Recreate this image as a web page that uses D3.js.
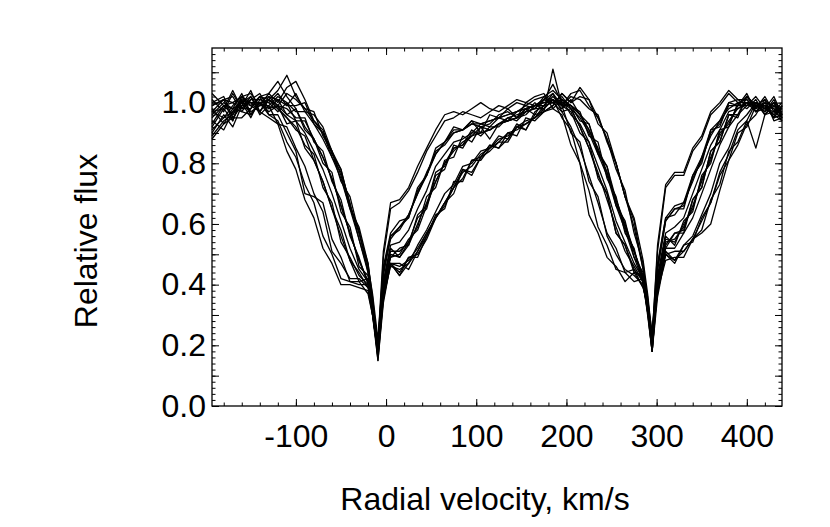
<!DOCTYPE html>
<html>
<head>
<meta charset="utf-8">
<script src="https://cdn.jsdelivr.net/npm/d3@7/dist/d3.min.js"></script>
<style>
  body { margin: 0; background: #fff; }
  text { font-family: "Liberation Sans", Arial, sans-serif; }
</style>
</head>
<body>
<div id="chart"></div>
<script>
// radial velocity grid (km/s), shared by every spectrum
var velocity = [-193, -180, -170, -160, -150, -140,
  -130, -120, -110, -100, -90, -80, -70, -60, -50, -40, -30, -20, -15, -9,
  -3, 5, 15, 25, 35, 45, 55, 65, 75, 85, 95, 105, 115, 125, 135, 145, 155, 165, 175,
  185, 195, 205, 215, 225, 235, 245, 255, 265, 275, 285, 290, 295,
  301, 310, 320, 330, 340, 350, 360, 370, 380, 390, 400, 410, 420, 430, 439];

// relative flux of each observed profile
var flux01 = [0.95, 0.99, 0.96, 1.02, 0.97, 0.99,
  1.03, 1.00, 1.05, 1.07, 1.01, 0.94, 0.91, 0.83, 0.78, 0.66, 0.58, 0.44, 0.33, 0.16,
  0.37, 0.47, 0.44, 0.49, 0.50, 0.55, 0.62, 0.66, 0.72, 0.78, 0.76, 0.82, 0.86, 0.85, 0.88, 0.93, 0.91, 0.97, 0.99,
  1.02, 0.99, 1.03, 1.04, 0.99, 0.95, 0.88, 0.78, 0.71, 0.57, 0.47, 0.33, 0.18,
  0.39, 0.50, 0.48, 0.53, 0.54, 0.62, 0.67, 0.77, 0.83, 0.91, 0.94, 1.00, 0.98, 0.96, 0.99];
var flux02 = [0.91, 0.95, 0.97, 1.01, 1.00, 0.97,
  1.02, 1.01, 0.99, 1.03, 0.97, 0.96, 0.92, 0.84, 0.76, 0.65, 0.59, 0.47, 0.36, 0.19,
  0.39, 0.49, 0.50, 0.55, 0.58, 0.66, 0.74, 0.80, 0.85, 0.86, 0.89, 0.92, 0.88, 0.93, 0.95, 0.94, 0.97, 1.00, 0.97,
  0.99, 1.03, 1.00, 1.02, 1.01, 0.93, 0.90, 0.80, 0.69, 0.61, 0.45, 0.35, 0.21,
  0.41, 0.53, 0.57, 0.58, 0.68, 0.72, 0.84, 0.87, 0.96, 0.95, 1.02, 0.99, 1.01, 0.94, 0.95];
var flux03 = [0.98, 0.93, 0.98, 1.03, 0.96, 1.00,
  1.00, 1.03, 0.99, 0.99, 1.00, 0.93, 0.90, 0.82, 0.77, 0.67, 0.55, 0.45, 0.32, 0.15,
  0.34, 0.47, 0.43, 0.47, 0.51, 0.57, 0.62, 0.67, 0.72, 0.77, 0.79, 0.83, 0.85, 0.88, 0.89, 0.92, 0.93, 0.95, 0.97,
  0.98, 1.01, 0.99, 0.96, 0.91, 0.84, 0.77, 0.67, 0.59, 0.51, 0.42, 0.31, 0.18,
  0.36, 0.50, 0.47, 0.53, 0.56, 0.63, 0.70, 0.80, 0.85, 0.93, 0.96, 1.00, 0.97, 1.01, 0.96];
var flux04 = [1.00, 1.02, 0.95, 0.99, 1.04, 0.97,
  1.01, 1.04, 1.09, 1.02, 0.98, 0.94, 0.90, 0.84, 0.78, 0.66, 0.57, 0.46, 0.37, 0.22,
  0.41, 0.52, 0.49, 0.53, 0.60, 0.67, 0.74, 0.80, 0.84, 0.87, 0.89, 0.90, 0.91, 0.93, 0.94, 0.95, 0.96, 0.99, 0.99,
  1.03, 0.99, 1.02, 1.01, 0.98, 0.96, 0.87, 0.80, 0.69, 0.62, 0.48, 0.37, 0.23,
  0.42, 0.56, 0.53, 0.61, 0.64, 0.76, 0.80, 0.91, 0.92, 1.00, 0.98, 1.01, 0.96, 1.00, 0.95];
var flux05 = [0.89, 0.94, 0.96, 1.00, 0.95, 1.01,
  1.00, 0.97, 1.00, 0.94, 0.94, 0.88, 0.82, 0.75, 0.66, 0.57, 0.48, 0.41, 0.30, 0.17,
  0.40, 0.51, 0.51, 0.54, 0.62, 0.65, 0.76, 0.78, 0.86, 0.85, 0.90, 0.90, 0.91, 0.93, 0.94, 0.95, 0.98, 0.96, 1.01,
  1.00, 1.01, 0.99, 0.96, 0.91, 0.85, 0.77, 0.68, 0.59, 0.51, 0.42, 0.35, 0.21,
  0.45, 0.61, 0.65, 0.65, 0.76, 0.80, 0.91, 0.92, 1.00, 0.99, 1.03, 0.97, 1.00, 0.95, 0.99];
var flux06 = [0.97, 1.01, 0.94, 1.02, 1.00, 1.00,
  0.98, 1.01, 0.96, 0.98, 0.91, 0.88, 0.82, 0.75, 0.66, 0.57, 0.48, 0.41, 0.34, 0.19,
  0.38, 0.47, 0.47, 0.45, 0.51, 0.56, 0.63, 0.65, 0.74, 0.74, 0.81, 0.81, 0.85, 0.87, 0.90, 0.89, 0.95, 0.94, 0.97,
  0.99, 1.03, 1.00, 1.05, 1.01, 0.95, 0.88, 0.80, 0.69, 0.59, 0.45, 0.36, 0.21,
  0.40, 0.50, 0.51, 0.51, 0.55, 0.58, 0.68, 0.73, 0.84, 0.87, 0.94, 0.85, 0.96, 0.97, 0.95];
var flux07 = [0.99, 1.01, 1.02, 0.97, 0.96, 1.00,
  1.01, 0.99, 0.98, 0.95, 0.95, 0.87, 0.84, 0.74, 0.68, 0.56, 0.49, 0.40, 0.31, 0.16,
  0.43, 0.56, 0.59, 0.63, 0.70, 0.77, 0.83, 0.87, 0.90, 0.91, 0.93, 0.93, 0.94, 0.95, 0.96, 0.97, 0.98, 0.99, 1.00,
  1.00, 1.00, 0.99, 0.97, 0.89, 0.87, 0.75, 0.69, 0.57, 0.52, 0.40, 0.31, 0.18,
  0.41, 0.55, 0.54, 0.60, 0.65, 0.75, 0.81, 0.90, 0.93, 0.99, 0.99, 1.00, 0.99, 0.98, 0.94];
var flux08 = [0.93, 0.99, 1.00, 0.98, 1.01, 1.01,
  1.02, 0.99, 1.03, 1.01, 0.98, 0.97, 0.89, 0.84, 0.74, 0.69, 0.57, 0.47, 0.34, 0.20,
  0.38, 0.47, 0.46, 0.48, 0.52, 0.57, 0.62, 0.67, 0.72, 0.75, 0.81, 0.82, 0.86, 0.85, 0.90, 0.91, 0.93, 0.95, 0.98,
  1.01, 0.98, 1.01, 0.96, 0.93, 0.83, 0.79, 0.66, 0.61, 0.49, 0.44, 0.32, 0.22,
  0.37, 0.51, 0.48, 0.51, 0.55, 0.61, 0.67, 0.76, 0.81, 0.90, 0.92, 0.99, 0.98, 1.02, 0.96];
var flux09 = [0.99, 1.01, 1.00, 1.02, 0.99, 0.97,
  1.01, 0.98, 0.95, 0.92, 0.86, 0.83, 0.72, 0.67, 0.54, 0.49, 0.43, 0.40, 0.34, 0.19,
  0.44, 0.55, 0.59, 0.62, 0.71, 0.76, 0.84, 0.86, 0.90, 0.91, 0.93, 0.92, 0.93, 0.96, 0.97, 0.95, 0.98, 0.99, 1.01,
  1.03, 0.97, 0.98, 0.92, 0.85, 0.77, 0.68, 0.59, 0.51, 0.46, 0.41, 0.31, 0.22,
  0.46, 0.62, 0.63, 0.67, 0.74, 0.82, 0.89, 0.94, 0.98, 1.00, 1.01, 0.97, 0.98, 1.00, 0.96];
var flux10 = [0.90, 0.96, 0.92, 0.99, 1.00, 1.00,
  0.97, 0.99, 0.93, 0.94, 0.85, 0.81, 0.74, 0.65, 0.56, 0.48, 0.41, 0.42, 0.33, 0.18,
  0.37, 0.50, 0.49, 0.54, 0.59, 0.69, 0.72, 0.81, 0.82, 0.89, 0.87, 0.92, 0.91, 0.93, 0.94, 0.95, 0.97, 0.98, 0.98,
  1.01, 0.99, 0.97, 0.90, 0.87, 0.75, 0.70, 0.57, 0.53, 0.44, 0.43, 0.33, 0.20,
  0.42, 0.52, 0.57, 0.57, 0.68, 0.72, 0.84, 0.87, 0.96, 0.96, 1.02, 0.99, 0.99, 0.95, 0.96];
var flux11 = [0.97, 0.95, 0.99, 1.02, 1.03, 0.99,
  0.99, 0.93, 0.92, 0.85, 0.79, 0.70, 0.64, 0.51, 0.47, 0.42, 0.42, 0.39, 0.33, 0.21,
  0.45, 0.56, 0.58, 0.63, 0.70, 0.76, 0.83, 0.87, 0.91, 0.91, 0.94, 0.90, 0.96, 0.95, 0.96, 0.97, 0.98, 0.99, 1.01,
  1.00, 0.97, 0.92, 0.85, 0.76, 0.67, 0.57, 0.52, 0.44, 0.45, 0.39, 0.33, 0.23,
  0.51, 0.72, 0.76, 0.76, 0.84, 0.88, 0.96, 0.99, 1.03, 1.00, 1.00, 0.99, 0.97, 1.00, 0.98];
var flux12 = [1.03, 0.99, 0.98, 1.00, 0.99, 1.02,
  0.96, 0.96, 0.90, 0.84, 0.70, 0.69, 0.67, 0.55, 0.49, 0.41, 0.41, 0.37, 0.30, 0.18,
  0.49, 0.65, 0.67, 0.71, 0.77, 0.84, 0.89, 0.94, 0.95, 0.97, 0.96, 0.95, 0.97, 0.99, 0.98, 1.00, 0.99, 1.01, 1.02,
  1.01, 0.99, 0.90, 0.87, 0.74, 0.69, 0.56, 0.50, 0.45, 0.43, 0.40, 0.34, 0.23,
  0.45, 0.61, 0.65, 0.66, 0.75, 0.81, 0.90, 0.93, 0.99, 0.99, 1.02, 0.98, 0.99, 0.95, 0.99];
var flux13 = [0.97, 0.98, 1.04, 0.98, 1.02, 0.97,
  0.95, 0.93, 0.84, 0.78, 0.68, 0.62, 0.52, 0.47, 0.40, 0.40, 0.39, 0.38, 0.30, 0.21,
  0.51, 0.67, 0.68, 0.72, 0.79, 0.85, 0.91, 0.96, 0.97, 0.96, 0.98, 1.00, 0.98, 0.97, 0.99, 1.01, 1.00, 1.02, 1.03,
  0.98, 0.96, 0.86, 0.80, 0.63, 0.57, 0.49, 0.46, 0.41, 0.44, 0.39, 0.33, 0.22,
  0.53, 0.73, 0.77, 0.77, 0.85, 0.89, 0.97, 1.00, 1.04, 1.01, 1.01, 0.98, 1.02, 0.97, 1.00];
var flux14 = [0.92, 0.98, 0.94, 1.01, 0.96, 1.00,
  0.96, 0.94, 0.87, 0.82, 0.73, 0.67, 0.56, 0.50, 0.42, 0.41, 0.40, 0.40, 0.31, 0.22,
  0.46, 0.57, 0.61, 0.62, 0.72, 0.76, 0.85, 0.87, 0.92, 0.91, 0.94, 0.93, 0.94, 0.95, 0.98, 0.95, 1.00, 0.99, 1.00,
  1.01, 0.95, 0.91, 0.80, 0.71, 0.59, 0.53, 0.45, 0.44, 0.41, 0.42, 0.32, 0.23,
  0.47, 0.62, 0.66, 0.67, 0.76, 0.82, 0.91, 0.94, 1.00, 1.01, 0.99, 1.00, 0.96, 0.99, 0.95];
var flux15 = [0.88, 0.93, 0.95, 0.95, 0.98, 1.02,
  1.03, 1.07, 1.02, 0.98, 0.92, 0.88, 0.80, 0.77, 0.64, 0.59, 0.46, 0.43, 0.31, 0.17,
  0.40, 0.49, 0.52, 0.53, 0.63, 0.66, 0.77, 0.79, 0.85, 0.86, 0.91, 0.89, 0.92, 0.92, 0.95, 0.96, 0.97, 0.98, 1.01,
  1.06, 1.00, 0.98, 0.92, 0.85, 0.76, 0.70, 0.57, 0.53, 0.45, 0.41, 0.32, 0.21,
  0.41, 0.54, 0.55, 0.59, 0.66, 0.74, 0.82, 0.89, 0.94, 0.98, 1.00, 1.00, 0.99, 0.96, 0.94];
var flux16 = [1.01, 0.97, 1.03, 0.98, 0.98, 1.02,
  1.01, 0.98, 0.95, 0.91, 0.89, 0.81, 0.74, 0.65, 0.58, 0.48, 0.44, 0.39, 0.35, 0.17,
  0.35, 0.47, 0.43, 0.49, 0.49, 0.56, 0.62, 0.67, 0.70, 0.78, 0.77, 0.82, 0.84, 0.87, 0.87, 0.92, 0.91, 0.96, 0.97,
  1.11, 0.99, 0.99, 0.94, 0.93, 0.84, 0.79, 0.68, 0.60, 0.51, 0.43, 0.33, 0.22,
  0.38, 0.48, 0.49, 0.49, 0.55, 0.57, 0.60, 0.71, 0.81, 0.86, 0.93, 0.96, 1.01, 0.98, 0.96];
var flux17 = [0.94, 0.91, 0.97, 1.00, 1.02, 0.96,
  0.99, 1.02, 1.00, 0.97, 0.97, 0.93, 0.88, 0.82, 0.75, 0.65, 0.55, 0.44, 0.30, 0.15,
  0.36, 0.46, 0.45, 0.47, 0.53, 0.58, 0.64, 0.70, 0.73, 0.79, 0.80, 0.84, 0.85, 0.89, 0.88, 0.92, 0.94, 0.95, 0.99,
  1.00, 1.02, 0.98, 0.95, 0.90, 0.83, 0.76, 0.66, 0.58, 0.49, 0.41, 0.30, 0.18,
  0.39, 0.52, 0.52, 0.57, 0.62, 0.70, 0.78, 0.86, 0.92, 0.96, 0.99, 1.02, 0.98, 0.97, 0.98];
var flux18 = [0.96, 1.00, 0.98, 0.97, 1.01, 1.03,
  0.98, 0.99, 0.96, 0.94, 0.90, 0.84, 0.78, 0.70, 0.61, 0.52, 0.45, 0.41, 0.33, 0.20,
  0.41, 0.53, 0.54, 0.58, 0.65, 0.71, 0.79, 0.83, 0.87, 0.88, 0.90, 0.93, 0.92, 0.95, 0.94, 0.97, 0.99, 0.98, 1.02,
  1.04, 1.01, 0.96, 0.93, 0.87, 0.79, 0.71, 0.61, 0.54, 0.47, 0.42, 0.35, 0.24,
  0.43, 0.57, 0.59, 0.62, 0.70, 0.78, 0.86, 0.91, 0.97, 0.98, 1.00, 0.97, 1.00, 0.99, 0.97];

var spectra = [flux01, flux02, flux03, flux04, flux05, flux06, flux07, flux08, flux09,
  flux10, flux11, flux12, flux13, flux14, flux15, flux16, flux17, flux18];

// tick labels
var xTickLabels = [-100, 0, 100, 200, 300, 400];
var yTickLabels = [0.0, 0.2, 0.4, 0.6, 0.8, 1.0];

// svg dimensions
var svgWidth = 830;
var svgHeight = 527;
// plot box (pixels)
var box = {left: 212, right: 782, top: 48, bottom: 406};

var svg = d3.select("#chart")
  .append("svg")
  .attr("width", svgWidth)
  .attr("height", svgHeight);

var x = d3.scaleLinear()
  .domain([-193, 439])
  .range([box.left, box.right]);
var y = d3.scaleLinear()
  .domain([0, 1.18])
  .range([box.bottom, box.top]);

// spectra
var line = d3.line()
  .x((d, i) => x(velocity[i]))
  .y(d => y(d));

svg.append("g")
  .selectAll("path")
  .data(spectra)
  .enter()
  .append("path")
  .attr("d", line)
  .attr("fill", "none")
  .attr("stroke", "#000")
  .attr("stroke-width", 1.3)
  .attr("stroke-linejoin", "round");

// tick positions
var xMinor = d3.range(-180, 440, 20);
var yMinor = d3.range(0, 59).map(i => i * 0.02);
var yMedium = d3.range(0, 12).map(i => i * 0.1);

function stripDomain(g) {
  g.select(".domain").remove();
  g.selectAll(".tick line").attr("stroke", "#000");
}

// inward ticks on all four sides
svg.append("g")
  .attr("transform", `translate(0, ${box.bottom})`)
  .call(d3.axisBottom(x).tickValues(xMinor).tickSize(-3.5).tickFormat(""))
  .call(stripDomain);
svg.append("g")
  .attr("transform", `translate(0, ${box.top})`)
  .call(d3.axisTop(x).tickValues(xMinor).tickSize(-3.5).tickFormat(""))
  .call(stripDomain);
svg.append("g")
  .attr("transform", `translate(0, ${box.top})`)
  .call(d3.axisTop(x).tickValues(xTickLabels).tickSize(-7).tickFormat(""))
  .call(stripDomain);
svg.append("g")
  .attr("transform", `translate(${box.left}, 0)`)
  .call(d3.axisLeft(y).tickValues(yMinor).tickSize(-3.5).tickFormat(""))
  .call(stripDomain);
svg.append("g")
  .attr("transform", `translate(${box.left}, 0)`)
  .call(d3.axisLeft(y).tickValues(yMedium).tickSize(-7).tickFormat(""))
  .call(stripDomain);
svg.append("g")
  .attr("transform", `translate(${box.right}, 0)`)
  .call(d3.axisRight(y).tickValues(yMinor).tickSize(-3.5).tickFormat(""))
  .call(stripDomain);
svg.append("g")
  .attr("transform", `translate(${box.right}, 0)`)
  .call(d3.axisRight(y).tickValues(yMedium).tickSize(-7).tickFormat(""))
  .call(stripDomain);

// labelled axes
var xAxis = svg.append("g")
  .attr("transform", `translate(0, ${box.bottom})`)
  .call(d3.axisBottom(x).tickValues(xTickLabels).tickSize(-7).tickPadding(18)
    .tickFormat(d3.format("d")))
  .call(stripDomain);
var yAxis = svg.append("g")
  .attr("transform", `translate(${box.left}, 0)`)
  .call(d3.axisLeft(y).tickValues(yTickLabels).tickSize(0).tickPadding(6)
    .tickFormat(d3.format(".1f")))
  .call(stripDomain);
[xAxis, yAxis].forEach(function(g) {
  g.attr("font-family", "Liberation Sans, Arial, sans-serif")
    .attr("font-size", 32);
  g.selectAll("text").attr("fill", "#000");
});
// plain hyphen for negative labels, as in the original
xAxis.selectAll("text").text(d => String(d));

// frame
svg.append("rect")
  .attr("x", box.left)
  .attr("y", box.top)
  .attr("width", box.right - box.left)
  .attr("height", box.bottom - box.top)
  .attr("fill", "none")
  .attr("stroke", "#000")
  .attr("stroke-width", 1.3);

// axis titles
svg.append("text")
  .attr("x", 485)
  .attr("y", 510)
  .attr("text-anchor", "middle")
  .attr("font-size", 32)
  .text("Radial velocity, km/s");
svg.append("text")
  .attr("transform", "translate(97, 241) rotate(-90)")
  .attr("text-anchor", "middle")
  .attr("font-size", 32)
  .text("Relative flux");
</script>
</body>
</html>
